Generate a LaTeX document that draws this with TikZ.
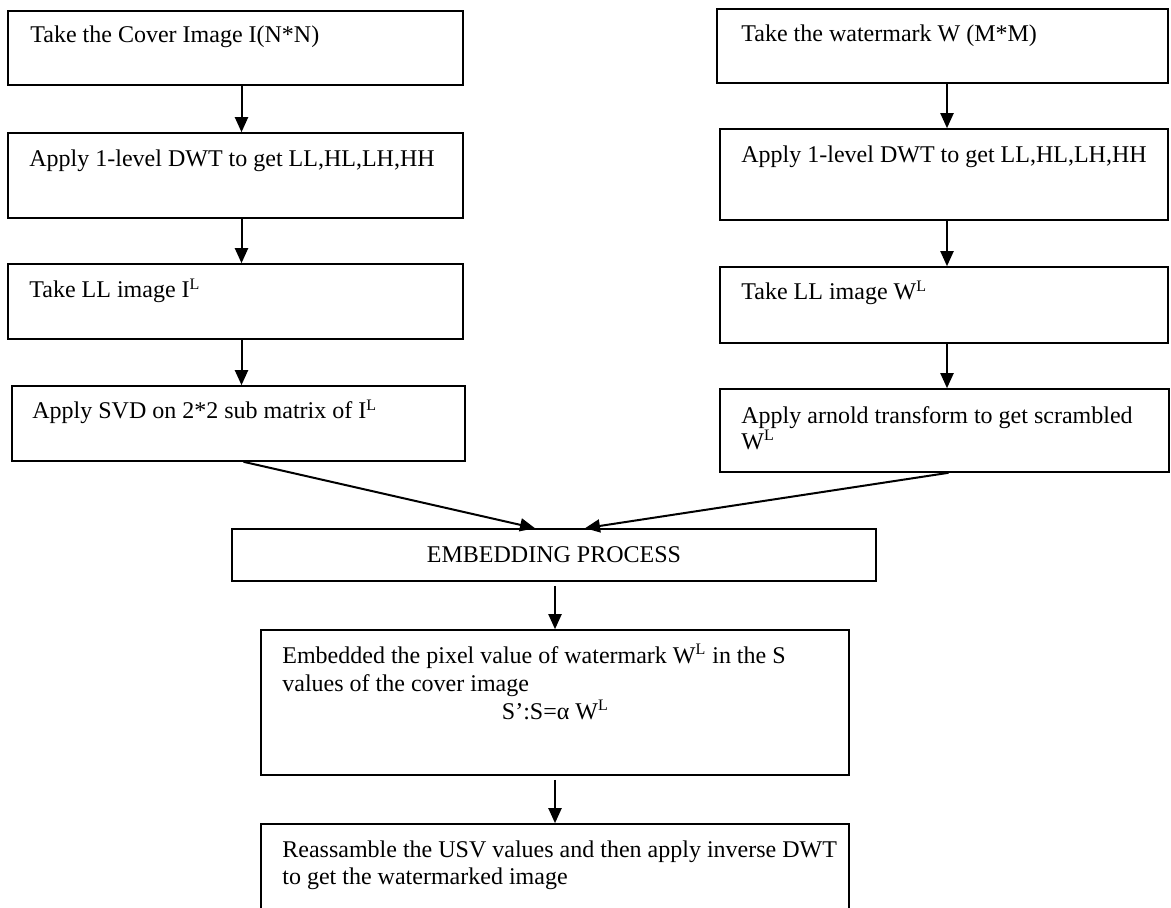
\documentclass[tikz,border=0pt]{standalone}
\usepackage{fontspec}
\setmainfont{Liberation Serif}
\usetikzlibrary{arrows.meta, calc}

\begin{document}
\begin{tikzpicture}[x=0.5pt, y=-0.5pt,
    box/.style={draw, line width=0.8pt, inner sep=0pt},
    txt/.style={anchor=base west, inner sep=0pt, font=\fontsize{12}{14}\selectfont},
    arr/.style={-{Triangle[length=7.5pt, width=6.5pt]}, line width=1pt}]
    \useasboundingbox (0,0) rectangle (1171,908);

    % ---- COLONNA SINISTRA: cover image ----
    \node[box, minimum width=227.5pt, minimum height=37pt] (cov1) at (235.5,48) {};
    \node[box, minimum width=227.5pt, minimum height=42.5pt] (cov2) at (235.5,175.5) {};
    \node[box, minimum width=227.5pt, minimum height=37.5pt] (cov3) at (235.5,301.5) {};
    \node[box, minimum width=226.5pt, minimum height=37.5pt] (cov4) at (238.5,423.5) {};
    \node[txt] (tcov1) at (30,43) {Take the Cover Image I(N*N)};
    \node[txt] (tcov2) at (29,167) {Apply 1-level DWT to get LL,HL,LH,HH};
    \node[txt] (tcov3) at (29,298) {Take LL image I\textsuperscript{L}};
    \node[txt] (tcov4) at (32,419) {Apply SVD on 2*2 sub matrix of I\textsuperscript{L}};

    % ---- COLONNA DESTRA: watermark ----
    \node[box, minimum width=225.5pt, minimum height=37pt] (wm1) at (942.5,46) {};
    \node[box, minimum width=224pt, minimum height=45.5pt] (wm2) at (944,174.5) {};
    \node[box, minimum width=224pt, minimum height=38pt] (wm3) at (944,305) {};
    \node[box, minimum width=224.5pt, minimum height=41.5pt] (wm4) at (944.5,430.5) {};
    \node[txt] (twm1) at (741,42) {Take the watermark W (M*M)};
    \node[txt] (twm2) at (741,163) {Apply 1-level DWT to get LL,HL,LH,HH};
    \node[txt] (twm3) at (741,300) {Take LL image W\textsuperscript{L}};
    \node[txt, text width=215pt, align=flush left, font=\fontsize{12}{9.5}\selectfont] (twm4) at (741,423)
        {Apply arnold transform to get scrambled\\W\textsuperscript{L}};

    % ---- EMBEDDING ----
    \node[box, minimum width=322pt, minimum height=26pt] (emb) at (554,555) {};
    \node[txt, anchor=base] (temb) at (554,562) {EMBEDDING PROCESS};

    \node[box, minimum width=294pt, minimum height=72.5pt] (ins) at (555,702.5) {};
    \node[txt, text width=273pt, align=flush left] (tins) at (282,663)
        {Embedded the pixel value of watermark W\textsuperscript{L} in the S\\
         values of the cover image\\
         \makebox[\linewidth]{S’:S=α W\textsuperscript{L}}};

    % ---- RICOSTRUZIONE (tagliata in basso) ----
    \node[box, minimum width=294pt, minimum height=50pt] (rec) at (555,874) {};
    \node[txt, text width=280pt, align=flush left, font=\fontsize{12}{13.5}\selectfont] (trec) at (282,857)
        {Reassamble the USV values and then apply inverse DWT\\
         to get the watermarked image};

    % ---- FRECCE ----
    \draw[arr] ([xshift=3pt]cov1.south) -- ([xshift=3pt]cov2.north);
    \draw[arr] ([xshift=3pt]cov2.south) -- ([xshift=3pt]cov3.north);
    \draw[arr] ([xshift=3pt]cov3.south) -- ([xshift=1.5pt]cov4.north);
    \draw[arr] ([xshift=2.25pt]wm1.south) -- ([xshift=1.5pt]wm2.north);
    \draw[arr] ([xshift=1.5pt]wm2.south) -- ([xshift=1.5pt]wm3.north);
    \draw[arr] ([xshift=1.5pt]wm3.south) -- ([xshift=1.25pt]wm4.north);
    \draw[arr] ([xshift=2.5pt]cov4.south) -- ([xshift=-9.5pt]emb.north);
    \draw[arr] ([xshift=2pt]wm4.south) -- ([xshift=15.5pt]emb.north);
    \draw[arr] ([xshift=0.5pt, yshift=-2pt]emb.south) -- (ins.north);
    \draw[arr] ([yshift=-2pt]ins.south) -- (rec.north);
\end{tikzpicture}
\end{document}
